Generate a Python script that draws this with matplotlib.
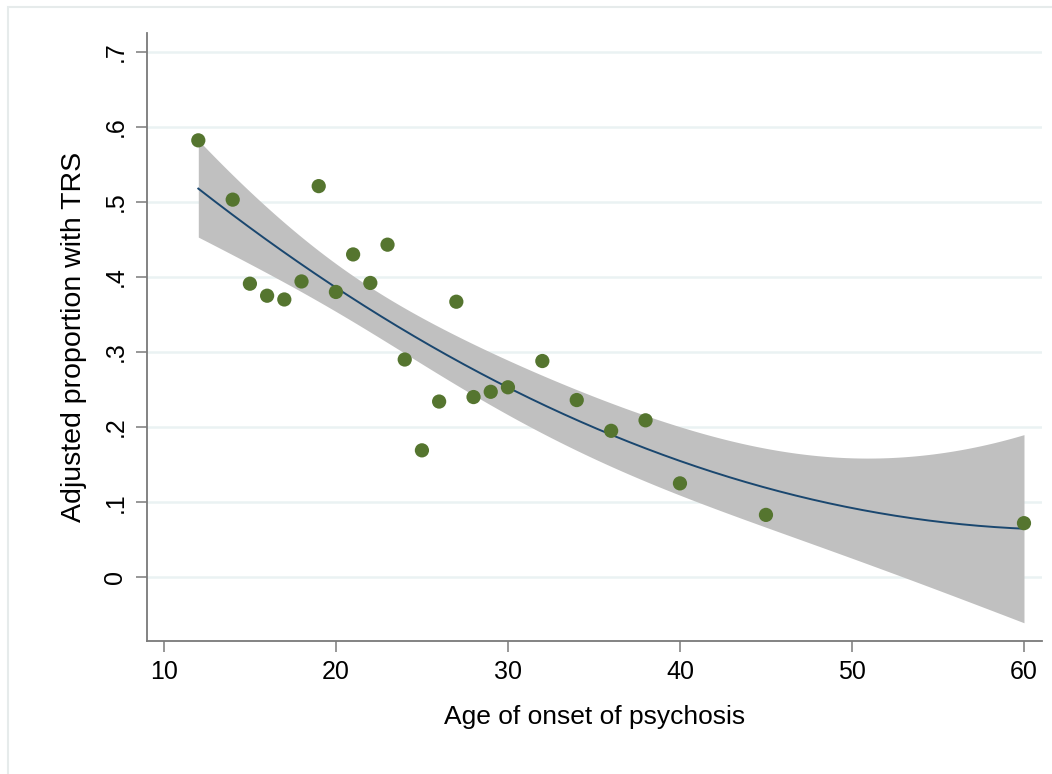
import numpy as np
import matplotlib
matplotlib.use("Agg")
import matplotlib.pyplot as plt
from matplotlib.patches import Rectangle

# ---- data ----
age = [12, 14, 15, 16, 17, 18, 19, 20, 21, 22, 23, 24, 25, 26, 27, 28, 29, 30,
       32, 34, 36, 38, 40, 45, 60]
prop = [0.582, 0.503, 0.391, 0.375, 0.370, 0.394, 0.521, 0.380, 0.430, 0.392,
        0.443, 0.290, 0.169, 0.234, 0.367, 0.240, 0.247, 0.253, 0.288, 0.236,
        0.195, 0.209, 0.125, 0.083, 0.072]
xticks = [10, 20, 30, 40, 50, 60]
yticks = [0, 0.1, 0.2, 0.3, 0.4, 0.5, 0.6, 0.7]
ytick_labels = ["0", ".1", ".2", ".3", ".4", ".5", ".6", ".7"]

plt.rcParams['font.family'] = ['Liberation Sans', 'DejaVu Sans']

x = np.array(age, dtype=float)
y = np.array(prop, dtype=float)

# quadratic fit with 95% CI of the mean prediction (like Stata qfitci)
X = np.column_stack([np.ones_like(x), x, x ** 2])
beta, *_ = np.linalg.lstsq(X, y, rcond=None)
resid = y - X @ beta
n, p = X.shape
s2 = resid @ resid / (n - p)
cov = s2 * np.linalg.inv(X.T @ X)
xg = np.linspace(x.min(), x.max(), 200)
Xg = np.column_stack([np.ones_like(xg), xg, xg ** 2])
yg = Xg @ beta
se = np.sqrt(np.einsum('ij,jk,ik->i', Xg, cov, Xg))
tcrit = 2.0739  # t(0.975, df=22)
lo, hi = yg - tcrit * se, yg + tcrit * se

fig = plt.figure(figsize=(10.52, 7.74), dpi=100)
fig.patches.append(Rectangle((8 / 1052, -0.1), 1.2, 1 - 7 / 774 + 0.1,
                             transform=fig.transFigure, fill=False,
                             edgecolor='#e6ebeb', linewidth=1.5))
ax = fig.add_axes([146.7 / 1052, 1 - 641 / 774, (1041.7 - 146.7) / 1052,
                   (641 - 33) / 774])

ax.fill_between(xg, lo, hi, color='#c0c0c0', linewidth=0, zorder=2)
ax.plot(xg, yg, color='#1a476f', linewidth=1.4, zorder=3)
ax.scatter(x, y, s=105, color='#55752f', edgecolors='none', zorder=4)

ax.set_xlim(9.0, 61.03)
ax.set_ylim(-0.085, 0.725)
ax.set_xticks(xticks)
ax.set_xticklabels([str(t) for t in xticks], fontsize=18)
ax.set_yticks(yticks)
ax.set_yticklabels(ytick_labels, fontsize=18, rotation=90, va='center')
ax.yaxis.grid(True, color='#eaf2f3', linewidth=1.8, zorder=0)
ax.set_axisbelow(True)

for side in ['top', 'right']:
    ax.spines[side].set_visible(False)
for side in ['left', 'bottom']:
    ax.spines[side].set_color('#7a7a7a')
    ax.spines[side].set_linewidth(1.3)
ax.tick_params(axis='both', direction='out', length=8, width=1.1,
               color='#7a7a7a', pad=6)

ax.set_xlabel("Age of onset of psychosis", fontsize=19, labelpad=15)
ax.set_ylabel("Adjusted proportion with TRS", fontsize=20.5, labelpad=12)

fig.savefig("out.png", dpi=100, facecolor='white')
